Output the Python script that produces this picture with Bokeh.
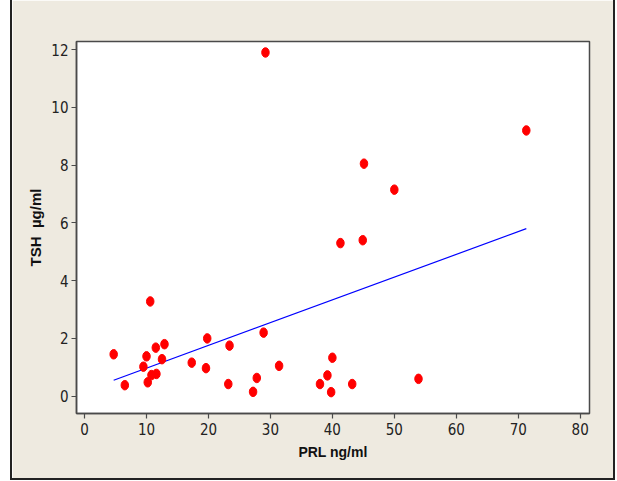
from bokeh.plotting import figure
from bokeh.models import Range1d, FixedTicker
from bokeh.embed import file_html
from bokeh.resources import INLINE

# PRL (ng/ml) and TSH (ug/ml) values
prl = [4.7, 6.5, 9.5, 10.0, 10.2, 10.6, 10.8, 11.5, 11.6, 12.5, 12.9,
       17.3, 19.6, 19.8, 23.2, 23.4, 27.2, 27.8, 28.9, 29.2, 31.4,
       38.0, 39.2, 39.8, 40.0, 41.3, 43.2, 44.9, 45.1, 50.0, 53.9, 71.3]
tsh = [1.45, 0.38, 1.02, 1.38, 0.48, 3.28, 0.73, 1.68, 0.77, 1.28, 1.80,
       1.16, 0.97, 2.00, 0.42, 1.75, 0.15, 0.63, 2.20, 11.90, 1.05,
       0.42, 0.72, 0.14, 1.33, 5.30, 0.42, 5.40, 8.05, 7.15, 0.60, 9.20]
# fitted regression line, end values
fit_x = [4.7, 71.3]
fit_y = [0.55, 5.80]
x_ticks = [0, 10, 20, 30, 40, 50, 60, 70, 80]
y_ticks = [0, 2, 4, 6, 8, 10, 12]

BEIGE = "#EEEAE0"
DARK = "#4a4a4a"
TICK_FONT = "'Liberation Sans Narrow', 'DejaVu Sans Condensed', 'Liberation Sans', sans-serif"

p = figure(width=605, height=480, output_backend="svg", toolbar_location=None,
           x_range=Range1d(-1.3, 81.5), y_range=Range1d(-0.6, 12.28),
           min_border_left=64, min_border_right=28, min_border_top=41, min_border_bottom=67)

p.border_fill_color = BEIGE
p.background_fill_color = "white"
p.outline_line_color = DARK
p.outline_line_width = 1.5
p.grid.visible = False
p.styles = {"border-left": "2px solid #222222", "border-right": "2px solid #222222",
            "border-bottom": "2px solid #222222", "box-sizing": "border-box",
            "margin-left": "10px"}

p.line(fit_x, fit_y, line_color="#0000FF", line_width=1.2)
p.ellipse(prl, tsh, width=7.5, height=9.5, width_units="screen", height_units="screen",
          fill_color="#FF0000", line_color="#FF0000")

for ax in (p.xaxis[0], p.yaxis[0]):
    ax.axis_line_color = DARK
    ax.axis_line_width = 1.5
    ax.major_tick_line_color = DARK
    ax.major_tick_line_width = 1.2
    ax.major_tick_out = 5
    ax.major_tick_in = 0
    ax.minor_tick_line_color = None
    ax.major_label_text_font = TICK_FONT
    ax.major_label_text_font_size = "15px"
    ax.major_label_text_color = "#222222"
    ax.axis_label_text_font = "Liberation Sans"
    ax.axis_label_text_font_style = "bold"
    ax.axis_label_text_color = "#111111"

p.xaxis.axis_label_text_font_size = "14px"
p.yaxis.axis_label_text_font_size = "15px"
p.xaxis.ticker = FixedTicker(ticks=x_ticks)
p.yaxis.ticker = FixedTicker(ticks=y_ticks)
p.xaxis.axis_label = "PRL ng/ml"
p.yaxis.axis_label = "TSH\u00a0\u00a0µg/ml"
p.xaxis.major_label_standoff = 4
p.yaxis.major_label_standoff = 3
p.xaxis.axis_label_standoff = 6
p.yaxis.axis_label_standoff = 4

open("out.html", "w").write(file_html(p, INLINE))
